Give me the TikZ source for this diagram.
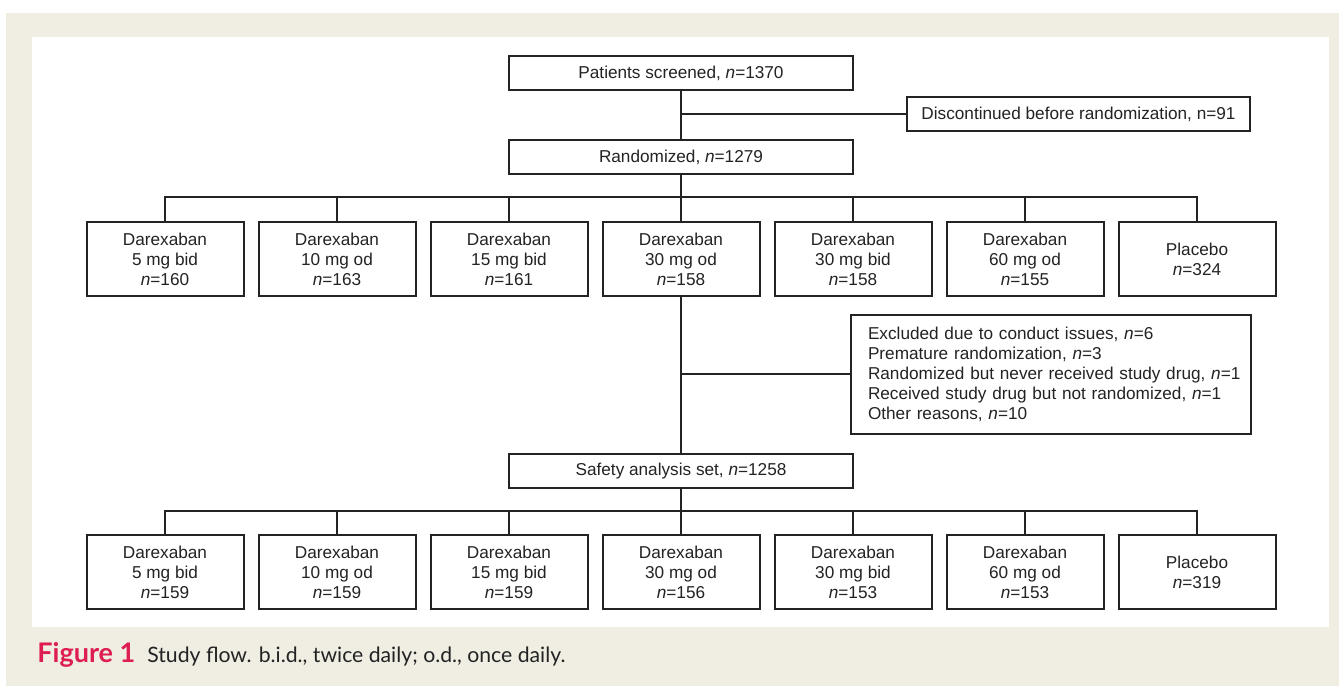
\documentclass[tikz,border=0pt]{standalone}
\usepackage{fontspec}
\setmainfont{Liberation Sans}
\newfontfamily\capfont{Lato}
\usepackage{tikz}
\definecolor{paper}{RGB}{240,237,227}
\definecolor{figred}{RGB}{222,30,82}
\definecolor{ink}{RGB}{35,35,35}

\begin{document}
\begin{tikzpicture}[x=0.5pt,y=-0.5pt,
			box/.style={draw=ink,line width=1pt,fill=white,inner sep=0pt,align=center,
				font=\fontsize{8.6}{10}\selectfont,text=ink},
			wide/.style={box,minimum width=172pt,minimum height=17pt},
			arm/.style={box,minimum width=78.5pt,minimum height=37pt},
			link/.style={draw=ink,line width=1pt}]
			\useasboundingbox (0,0) rectangle (1339,686);
			\fill[paper] (6,13) rectangle (1339,686);
			\fill[white] (32,37) rectangle (1329,627);
			%% main column
			\node[wide] (scr) at (681,73) {Patients screened, \textit{n}=1370};
			\node[wide] (rand) at (681,157) {Randomized, \textit{n}=1279};
			\node[wide] (safe) at (681,471) {Safety analysis set, \textit{n}=1258};
			\node[box,minimum width=171.5pt,minimum height=17pt] (disc) at (1078.5,114)
				{Discontinued before randomization, n=91};
			\node[box,text width=183pt,inner xsep=8.5pt,minimum height=59.5pt,align=left,anchor=west] (excl) at (850,374)
				{\mbox{Excluded due to conduct issues, \textit{n}=6}\\
				\mbox{Premature randomization, \textit{n}=3}\\
				\mbox{Randomized but never received study drug, \textit{n}=1}\\
				\mbox{Received study drug but not randomized, \textit{n}=1}\\
				\mbox{Other reasons, \textit{n}=10}};
			%% randomized arms
			\foreach \i/\dose/\nr in {1/5 mg bid/160,2/10 mg od/163,3/15 mg bid/161,
				4/30 mg od/158,5/30 mg bid/158,6/60 mg od/155}
				\node[arm] (a\i) at ({165+172*(\i-1)},259) {Darexaban\\\dose\\\textit{n}=\nr};
			\node[arm] (a7) at (1197,259) {Placebo\\\textit{n}=324};
			%% safety arms
			\foreach \i/\dose/\nr in {1/5 mg bid/159,2/10 mg od/159,3/15 mg bid/159,
				4/30 mg od/156,5/30 mg bid/153,6/60 mg od/153}
				\node[arm] (b\i) at ({165+172*(\i-1)},572) {Darexaban\\\dose\\\textit{n}=\nr};
			\node[arm] (b7) at (1197,572) {Placebo\\\textit{n}=319};
			%% trunk and side branches
			\draw[link] (scr) -- (rand);
			\draw[link] (rand) -- (a4);
			\draw[link] (a4) -- (safe);
			\draw[link] (safe) -- (b4);
			\draw[link] (scr.south |- disc.west) -- (disc.west);
			\draw[link] (a4.south |- excl.west) -- (excl.west);
			%% buses
			\coordinate (busa) at (681,197);
			\coordinate (busb) at (681,511);
			\draw[link] (a1.north) |- (busa) -| (a7.north);
			\draw[link] (b1.north) |- (busb) -| (b7.north);
			\foreach \i in {2,3,5,6} {
				\draw[link] (a\i.north) -- (a\i.north |- busa);
				\draw[link] (b\i.north) -- (b\i.north |- busb);
			}
			%% caption
			\node[anchor=base west,inner sep=0pt,font=\capfont\fontsize{10.6}{13}\selectfont,text=ink] (cap) at (37,662)
				{\textcolor{figred}{\fontsize{13.5}{15}\selectfont\bfseries Figure 1}\hspace{6pt}Study flow. b.i.d., twice daily; o.d., once daily.};
		\end{tikzpicture}
\end{document}
